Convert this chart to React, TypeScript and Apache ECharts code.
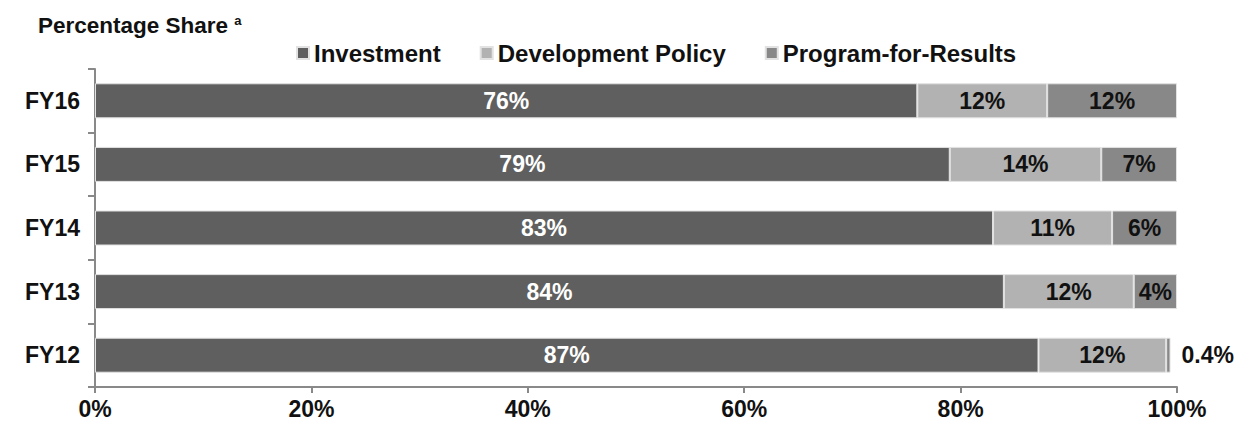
import React, { useEffect, useRef } from "react";
import * as echarts from "echarts";

const categories = ["FY12", "FY13", "FY14", "FY15", "FY16"];
const investment = [87.2, 84, 83, 79, 76];
const devPolicy = [11.8, 12, 11, 14, 12];
const pforr = [0.4, 4, 6, 7, 12];
const seriesNames = ["Investment", "Development Policy", "Program-for-Results"];
const xTicks = [0, 20, 40, 60, 80, 100];

const FONT = "'Liberation Sans', Arial, sans-serif";
const AXIS = "#898989";
const FS = 23;

const fmt = (v: number) => (v < 1 ? v.toFixed(1) : String(Math.round(v))) + "%";

export default function App() {
  const ref = useRef<HTMLDivElement>(null);
  useEffect(() => {
    document.body.style.margin = "0";
    if (!ref.current) return;
    const chart = echarts.init(ref.current, undefined, { renderer: "svg" });
    const labelBase = {
      show: true,
      fontFamily: FONT,
      fontWeight: "bold" as const,
      fontSize: FS,
      formatter: (p: any) => fmt(p.value),
    };
    const mk = (name: string, data: number[], color: string, labelColor: string) => ({
      name,
      type: "bar",
      stack: "total",
      barWidth: 35,
      itemStyle: { color, borderColor: "#e2e2e2", borderWidth: 1 },
      label: { ...labelBase, color: labelColor, position: "inside" },
      data: data.map((v) =>
        v < 1
          ? { value: v, label: { position: "right", distance: 11 } }
          : v
      ),
    });
    chart.setOption({
      animation: false,
      title: {
        text: "{t|Percentage Share }{s|a}",
        left: 33,
        top: 9,
        textStyle: {
          rich: {
            t: { fontFamily: FONT, fontWeight: "bold", fontSize: 22.5, color: "#111" },
            s: { fontFamily: FONT, fontWeight: "bold", fontSize: 13, color: "#111", verticalAlign: "top", padding: [0, 0, 10, 0] },
          },
        },
      },
      legend: {
        data: seriesNames,
        left: 291,
        top: 36,
        icon: "rect",
        itemWidth: 12,
        itemHeight: 12,
        itemGap: 39,
        textStyle: { fontFamily: FONT, fontWeight: "bold", fontSize: 24, color: "#111" },
      },
      grid: { left: 95, right: 61, top: 69, bottom: 39, containLabel: false },
      xAxis: {
        type: "value",
        min: xTicks[0],
        max: xTicks[xTicks.length - 1],
        interval: 20,
        splitLine: { show: false },
        axisLine: { show: true, lineStyle: { color: AXIS, width: 2 } },
        axisTick: { show: true, length: 6, lineStyle: { color: AXIS, width: 2 } },
        axisLabel: {
          fontFamily: FONT,
          fontWeight: "bold",
          fontSize: FS,
          color: "#111",
          margin: 10,
          formatter: (v: number) => v + "%",
        },
      },
      yAxis: {
        type: "category",
        data: categories,
        axisLine: { show: true, lineStyle: { color: AXIS, width: 2 } },
        axisTick: { show: true, length: 7, lineStyle: { color: AXIS, width: 2 } },
        axisLabel: { fontFamily: FONT, fontWeight: "bold", fontSize: FS, color: "#111", margin: 15 },
      },
      series: [
        mk(seriesNames[0], investment, "#5f5f5f", "#ffffff"),
        mk(seriesNames[1], devPolicy, "#b2b2b2", "#111"),
        mk(seriesNames[2], pforr, "#888888", "#111"),
      ],
    });
    return () => chart.dispose();
  }, []);
  return <div ref={ref} style={{ width: 1238, height: 426 }} />;
}
